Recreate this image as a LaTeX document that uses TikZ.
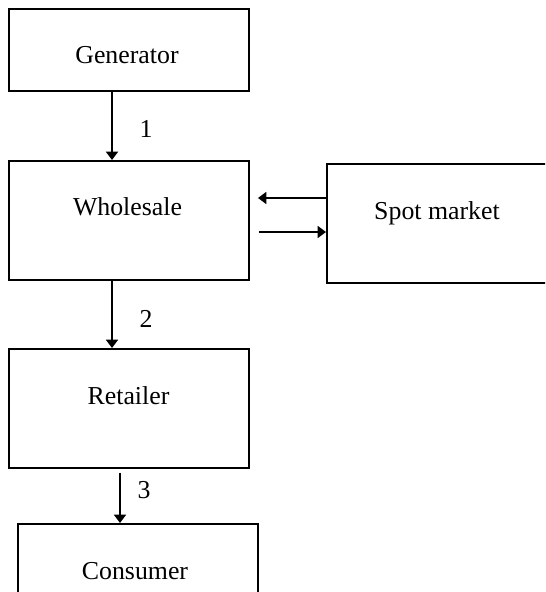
\documentclass[tikz,border=0pt]{standalone}
\usepackage{fontspec}
\setmainfont{Liberation Serif}
\usepackage{tikz}
\usetikzlibrary{arrows.meta,calc}

\begin{document}
\begin{tikzpicture}[x=0.02cm, y=-0.02cm,
    block/.style={draw, rectangle, line width=1.1pt, inner sep=0pt, minimum width=4.8cm},
    caption/.style={anchor=base, inner sep=0pt, font=\fontsize{14.7}{17}\selectfont},
    num/.style={inner sep=0pt, font=\fontsize{14.7}{17}\selectfont},
    flow/.style={line width=1.1pt, -{Triangle[width=6.8pt, length=4.8pt]}}]
    \useasboundingbox (0,0) rectangle (545,592);
    \clip (0,0) rectangle (545,592);

    % Generator
    \node[block, minimum height=1.64cm] (gen) at (129,50) {};
    \node[caption] (gen_t) at (127,63) {Generator};

    % Wholesale
    \node[block, minimum height=2.38cm] (whole) at (129,220.5) {};
    \node[caption] (whole_t) at (127.5,215) {Wholesale};

    % Spot market
    \node[block, minimum height=2.38cm, minimum width=4.76cm] (spot) at (446,223.5) {};
    \node[caption] (spot_t) at (437,219) {Spot market};

    % Retailer
    \node[block, minimum height=2.38cm] (ret) at (129,408.5) {};
    \node[caption] (ret_t) at (128.5,404) {Retailer};

    % Consumer
    \node[block, minimum height=1.72cm] (cons) at (138,567) {};
    \node[caption] (cons_t) at (135,579) {Consumer};

    % Flows
    \draw[flow] ($(gen.south)+(-17,0)$) -- node[num, pos=0.55, xshift=0.68cm] (n1) {1} ($(whole.north)+(-17,0)$);
    \draw[flow] ($(whole.south)+(-17,0)$) -- node[num, pos=0.57, xshift=0.68cm] (n2) {2} ($(ret.north)+(-17,0)$);
    \draw[flow] ($(ret.south)+(-9,4)$) -- node[num, pos=0.35, xshift=0.48cm] (n3) {3} ($(cons.north)+(-18,0)$);
    \draw[flow] ($(spot.west)+(0,-25.5)$) -- ($(whole.east)+(8,-22.5)$);
    \draw[flow] ($(whole.east)+(9,11.5)$) -- ($(spot.west)+(0,8.5)$);
\end{tikzpicture}
\end{document}
